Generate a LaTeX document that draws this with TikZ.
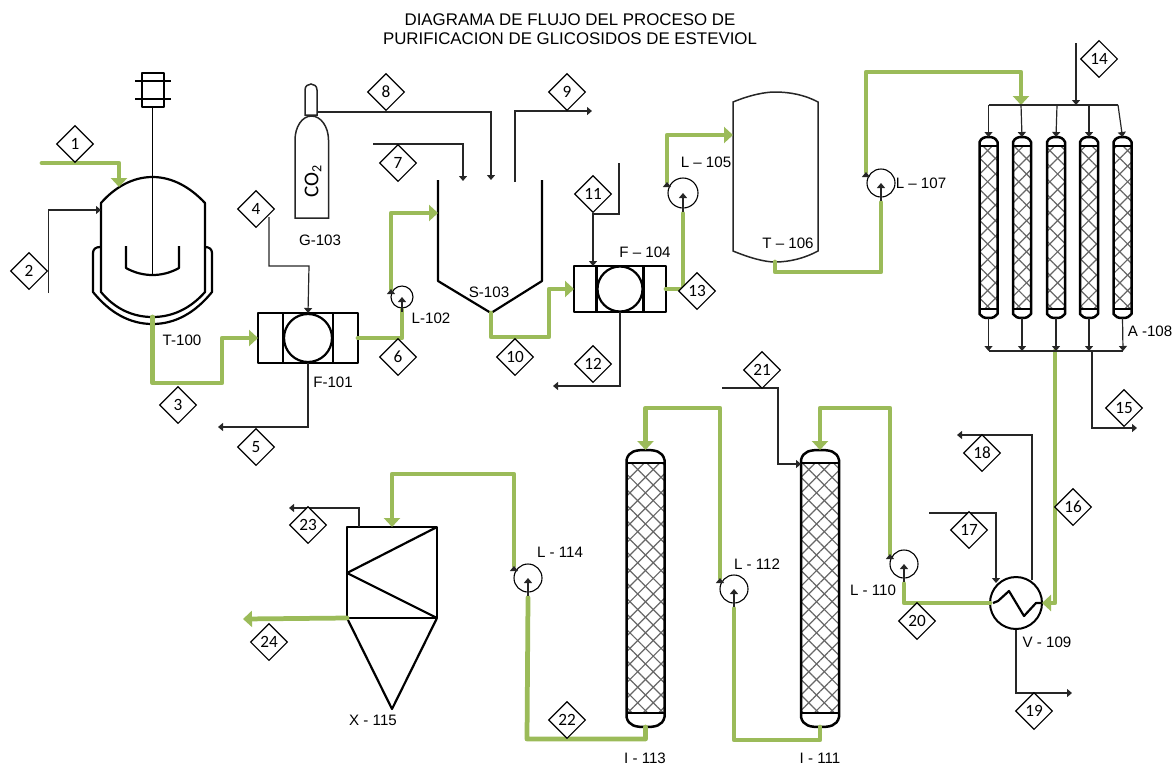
\documentclass[tikz,border=0pt]{standalone}
\usepackage{fontspec}
\setmainfont{Liberation Sans}
\newfontfamily\tagfont{Carlito}
\usepackage{xcolor}
\usepackage{tikz}
\usetikzlibrary{arrows.meta,calc,positioning,shapes.geometric,patterns.meta}
\definecolor{flowgreen}{HTML}{9BBB59}
\tikzset{
  mainflow/.style={draw=flowgreen,line width=.095cm,line cap=round,line join=round},
  mainend/.style={mainflow,-{Triangle[length=.18cm,width=.32cm]}},
  thinflow/.style={draw=black!85,line width=.024cm},
  thinend/.style={thinflow,-{Triangle[length=.1cm,width=.16cm]}},
  equip/.style={draw=black,line width=.044cm,line join=round},
  pump/.style={circle,draw=black,line width=.022cm,inner sep=0pt},
  tag/.style={diamond,aspect=1,draw=black,line width=.022cm,fill=white,inner sep=0pt,minimum size=.74cm,font=\tagfont\fontsize{9.8}{10}\selectfont},
  lbl/.style={font=\fontsize{8.6}{10}\selectfont,inner sep=0pt},
  grid45/.style={pattern={Lines[angle=45,distance=.22cm,line width=.024cm]},pattern color=black!60},
  grid135/.style={pattern={Lines[angle=-45,distance=.22cm,line width=.024cm]},pattern color=black!60}
}
% one packed column: name, centre x, half width, top, side top, bed top, bed bottom, side bottom, bottom
\newcommand\packedcol[9]{
  \fill[grid45] (#2-#3,#6) rectangle (#2+#3,#7);
  \fill[grid135] (#2-#3,#6) rectangle (#2+#3,#7);
  \draw[equip,line width=.05cm] (#2-#3,#5) .. controls (#2-#3+2,#4+1) and (#2-#3/2,#4) .. (#2,#4) .. controls (#2+#3/2,#4) and (#2+#3-2,#4+1) .. (#2+#3,#5)
    -- (#2+#3,#8) .. controls (#2+#3-2,#9-1) and (#2+#3/2,#9) .. (#2,#9) .. controls (#2-#3/2,#9) and (#2-#3+2,#9-1) .. (#2-#3,#8) -- cycle;
  \draw[equip] (#2-#3,#6) -- (#2+#3,#6) (#2-#3,#7) -- (#2+#3,#7);
  \coordinate (#1top) at (#2,#4);
  \coordinate (#1bot) at (#2,#9);
}
% one filter press: name, left, top, right, bottom, radius of the drum
\newcommand\filterunit[6]{
  \draw[equip] (#2,#3) rectangle (#4,#5);
  \draw[equip] ({(#2+#4)/2-#6-1},#3) -- ({(#2+#4)/2-#6-1},#5) ({(#2+#4)/2+#6+1},#3) -- ({(#2+#4)/2+#6+1},#5);
  \draw[equip] ({(#2+#4)/2},{(#3+#5)/2}) ellipse (#6 and -#6);
  \coordinate (#1in) at (#2,{(#3+#5)/2});
  \coordinate (#1out) at (#4,{(#3+#5)/2});
  \coordinate (#1bot) at ({(#2+#4)/2},#5);
  \coordinate (#1top) at ({(#2+#4)/2},#3);
}
\begin{document}
\begin{tikzpicture}[x=.02cm,y=-.02cm]
  \useasboundingbox (0,0) rectangle (1176,765);
  \node[align=center,inner sep=0pt,font=\fontsize{9.6}{10}\selectfont] (title) at (570,29.5) {DIAGRAMA DE FLUJO DEL PROCESO DE\\[.7pt]PURIFICACION DE GLICOSIDOS DE ESTEVIOL};

  % reactor
  \draw[equip] (101,292) -- (101,203) .. controls (115,187) and (133,177) .. (152.5,177) .. controls (172,177) and (190,187) .. (205,203)
    -- (205,292) .. controls (190,309) and (172,317) .. (152.5,317) .. controls (133,317) and (115,309) .. (101,292) -- cycle;
  \draw[equip] (100,247) .. controls (96,247) and (93,249) .. (93,253) -- (93,292) .. controls (110,313) and (130,324) .. (152.5,324)
    .. controls (175,324) and (195,313) .. (212,292) -- (212,253) .. controls (212,249) and (209,247) .. (205,247);
  \draw[equip] (142,73) rectangle (164,107);
  \draw[equip] (135,81) -- (171,81) (135,99) -- (171,99);
  \draw[equip,line width=.032cm] (152.5,107) -- (152.5,275);
  \draw[equip] (126,246) -- (126,268) .. controls (135,273) and (144,275) .. (152.5,275) .. controls (161,275) and (170,273) .. (179,268) -- (179,246);
  \coordinate (T100bot) at (152.5,317);

  % cylinder
  \draw[thinflow,line width=.03cm] (295,140) .. controls (295,127) and (302,116) .. (311.5,116) .. controls (321,116) and (328.5,127) .. (328.5,140)
    -- (328.5,218) -- (295,218) -- cycle;
  \draw[thinflow,line width=.03cm] (305,115) -- (305,90) .. controls (305,82) and (317,82) .. (317,90) -- (317,115) -- cycle;
  \node[rotate=90,inner sep=0pt,font=\tagfont\fontsize{12}{12}\selectfont] (co2) at (313,181) {CO\textsubscript{2}};
  \coordinate (G103out) at (317,112);

  % settler
  \draw[equip] (438,180) -- (438,281) -- (491,313) -- (542,281) -- (542,180);
  \coordinate (S103in) at (438,213);
  \coordinate (S103bot) at (491,313);

  \filterunit{F101}{258}{313}{358}{363}{24}
  \filterunit{F104}{574}{266}{666}{312}{22.5}

  % tank
  \draw[thinflow,line width=.03cm] (733,102) .. controls (750,95) and (765,92) .. (775,92) .. controls (790,92) and (805,95) .. (818,102)
    -- (818,251) .. controls (805,258) and (790,262) .. (775,262) .. controls (765,262) and (750,258) .. (733,251) -- cycle;
  \coordinate (T106bot) at (775,262);

  % small columns and their headers
  \foreach \n/\cx in {a/988.5,b/1022,c/1056,d/1089,e/1122.5}
    \packedcol{A\n}{\cx}{9}{137}{142}{146}{309}{314}{318};
  \packedcol{I111}{820}{19}{450}{460}{463}{713}{717}{727}
  \packedcol{I113}{645.5}{19}{450}{460}{463}{713}{717}{727}

  % exchanger and drier
  \node[circle,draw=black,line width=.04cm,minimum size=1.04cm,inner sep=0pt] (V109) at (1016,603) {};
  \draw[equip] (993,603) -- (998,601) -- (1009,591) -- (1024,616) -- (1036,603) -- (1042,603);
  \draw[equip] (347,527) rectangle (437,618);
  \draw[equip] (437,527) -- (347,573) -- (437,618);
  \draw[equip] (347,618) -- (392,709) -- (437,618);
  \coordinate (X115top) at (392,527);
  \coordinate (X115out) at (347,618);

  % pumps
  \foreach \n/\x/\y/\d/\ox/\oy in {L102/402/297/.44/-11/-8,L105/683/193/.6/-16/-11,L107/881/183/.56/-15/-11,
      L110/904/564/.56/-14/-10,L112/734/589/.56/-14/-11,L114/528/578/.56/-14/-12}{
    \node[pump,minimum size=\d cm] (\n) at (\x,\y) {};
    \coordinate (\n out) at ([shift={(\ox,\oy)}]\n.center);
  }

  % main streams
  \coordinate (s1) at (42,163);
  \coordinate (s1end) at (119,187);
  \draw[mainend] (s1) -| (s1end);
  \draw[mainend] (T100bot) |- (222,383) |- (F101in);
  \draw[mainflow] (F101out) -| ([yshift=-.02cm]L102.south);
  \draw[mainend] (L102out) |- (S103in);
  \draw[mainend] (S103bot) |- (549,337) |- (F104in);
  \draw[mainflow] (F104out) -| ([yshift=-.1cm]L105.south);
  \draw[mainend] (L105out) |- (733,135);
  \draw[mainflow] (T106bot) |- (881,272) -- ([yshift=-.1cm]L107.south);
  \draw[mainend] (L107out) |- (1021,72) -- (1021,105);
  \coordinate (A108out) at (1055,351);
  \coordinate (V109in) at (1042,603);
  \draw[mainend] (A108out) |- (V109in);
  \draw[mainflow] (990,603) -| ([yshift=-.1cm]L110.south);
  \draw[mainend] (L110out) |- (820,408) -- (I111top);
  \draw[mainflow] (I111bot) |- (734,740) -- ([yshift=-.1cm]L112.south);
  \draw[mainend] (L112out) |- (645.5,408) -- (I113top);
  \draw[mainflow] (I113bot) |- (527,739) -- ([yshift=-.1cm]L114.south);
  \draw[mainend] (L114out) |- (392,474) -- (X115top);
  \draw[mainend] (X115out) -- (243,619);

  % tips on the pumps
  \foreach \n in {L102,L105,L107,L110,L112,L114}{
    \draw[thinend] (\n.south) ++(0,3) -- (\n.center);
    \draw[thinend] (\n out) ++(0,1) -- (\n out);
  }

  % service lines
  \draw[thinend] (48.5,293) |- (101,210);
  \draw[thinend] (269,217) |- (309,266) -- (F101top);
  \draw[thinend] (F101bot) |- (218,427);
  \draw[thinend] (373,144) -| (463,181);
  \draw[thinend] (G103out) -| (491,180);
  \draw[thinend] (515,182) |- (592,111);
  \draw[thinend] (619,163) |- (593,214) -- (593,266);
  \draw[thinend] (F104bot) |- (553,386);
  \draw[thinend] (1076,43) -- (1076,105);
  \draw[thinflow] (988.5,105) -- (1118,105);
  \foreach \n/\x in {a/988.5,b/1021,c/1057,d/1089,e/1118}
    \draw[thinend] (\x,105) -- (A\n top);
  \foreach \n/\x in {a/988.5,b/1022,c/1056,d/1089,e/1123}
    \draw[thinend] (A\n bot) -- (\x,351);
  \draw[thinflow] (988.5,351) -- (1123,351);
  \draw[thinend] (1092,351) |- (1137,428);
  \draw[thinend] (929,513) -| (996,583);
  \draw[thinend] (1032,580) |- (957,435);
  \draw[thinend] (V109.south) |- (1072,693);
  \draw[thinend] (722,388) -| (778,464) -- (801,464);
  \draw[thinend] (359,527) |- (289,508);

  % stream numbers
  \foreach \n/\x/\y in {1/75/144,2/29/271,3/178/405,4/256/209,5/256/447,6/398/357,7/398/163,8/386/92,
      9/567/92,10/515/357,11/593/194,12/593/364,13/697/291,14/1099/59,15/1124/408,16/1073/507,
      17/969/530,18/982/453,19/1034/711,20/917/621,21/762/370,22/567/720,23/308/525,24/269/642}
    \node[tag] (d\n) at (\x,\y) {\n};

  % equipment names
  \node[lbl] (nT100) at (182,340) {T-100};
  \node[lbl] (nF101) at (333,382) {F-101};
  \node[lbl] (nG103) at (320,240) {G-103};
  \node[lbl] (nL102) at (431,318) {L-102};
  \node[lbl] (nS103) at (489,292) {S-103};
  \node[lbl] (nF104) at (645,252) {F – 104};
  \node[lbl] (nL105) at (706,162) {L – 105};
  \node[lbl] (nT106) at (788,243) {T – 106};
  \node[lbl] (nL107) at (921,183) {L – 107};
  \node[lbl] (nA108) at (1150,331) {A -108};
  \node[lbl] (nV109) at (1047,642) {V - 109};
  \node[lbl] (nL110) at (873,590) {L - 110};
  \node[lbl] (nI111) at (820,758) {I - 111};
  \node[lbl] (nL112) at (757,564) {L - 112};
  \node[lbl] (nI113) at (645,758) {I - 113};
  \node[lbl] (nL114) at (560,552) {L - 114};
  \node[lbl] (nX115) at (373,720) {X - 115};
\end{tikzpicture}
\end{document}
